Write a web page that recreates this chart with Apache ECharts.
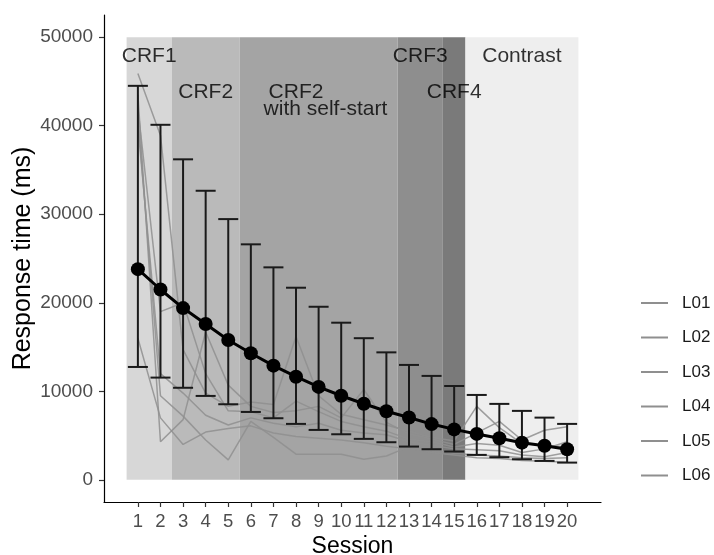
<!DOCTYPE html>
<html>
<head>
<meta charset="utf-8">
<script src="https://cdn.jsdelivr.net/npm/echarts@6/dist/echarts.min.js"></script>
<style>
  html, body { margin: 0; padding: 0; background: #fff; }
  #main { width: 714px; height: 555px; }
</style>
</head>
<body>
<div id="main"></div>
<script>
// sessions and group means with error bar limits (ms)
const sessions = [1, 2, 3, 4, 5, 6, 7, 8, 9, 10, 11, 12, 13, 14, 15, 16, 17, 18, 19, 20];
const meanRT  = [23800, 21500, 19400, 17600, 15800, 14300, 12900, 11650, 10500, 9500, 8600, 7750, 7050, 6300, 5700, 5190, 4700, 4200, 3850, 3450];
const upperRT = [44500, 40100, 36200, 32650, 29450, 26600, 24000, 21700, 19550, 17750, 16000, 14400, 12980, 11740, 10600, 9590, 8580, 7790, 7030, 6320];
const lowerRT = [12750, 11550, 10400, 9480, 8540, 7670, 6960, 6320, 5640, 5150, 4630, 4250, 3760, 3460, 3200, 2820, 2560, 2330, 2140, 1950];

// individual subjects
const subjectNames = ['L01', 'L02', 'L03', 'L04', 'L05', 'L06'];
const L01 = [45900, 38900, 14700, 9800, 8300, 8800, 8500, 16200, 9500, 7400, 6800, 6200, 5500, 4800, 4400, 8300, 5900, 4100, 3900, 3700];
const L02 = [43500, 4300, 6800, 16700, 10700, 8300, 7600, 7800, 8300, 7000, 10200, 6500, 5200, 4600, 4000, 5300, 6600, 4500, 5600, 6000];
const L03 = [42000, 19000, 20000, 12000, 7800, 7700, 7000, 8900, 7700, 6600, 6000, 5500, 4600, 4300, 3700, 4100, 3900, 3100, 3500, 4300];
const L04 = [40000, 12000, 9800, 7300, 6200, 7000, 6400, 6000, 6400, 5600, 5300, 5100, 4300, 3900, 3500, 3400, 3300, 2800, 2600, 3100];
const L05 = [16000, 7000, 4000, 5400, 5800, 6100, 5300, 4900, 4700, 4500, 4200, 3800, 3500, 3300, 3000, 2800, 2700, 2500, 2400, 2500];
const L06 = [41000, 9500, 7200, 4500, 2260, 6600, 4800, 2900, 2900, 2900, 2330, 2700, 3760, 3100, 2800, 2500, 2400, 2200, 2100, 2000];
const subjects = [L01, L02, L03, L04, L05, L06];

// training phases (session ranges)
const phaseStart = [0.5, 2.5, 5.5, 12.5, 14.5, 15.5];
const phaseEnd   = [2.5, 5.5, 12.5, 14.5, 15.5, 20.5];
const phaseTop = 50000;
const phaseColors = ['#d7d7d7', '#bababa', '#a4a4a4', '#8e8e8e', '#7a7a7a', '#eeeeee'];

// phase captions, in data units
const phaseText = ['CRF1', 'CRF2', 'CRF2', 'with self-start', 'CRF3', 'CRF4', 'Contrast'];
const phaseTextX = [1.5, 4, 8, 9.3, 13.5, 15, 18];
const phaseTextY = [47900, 43800, 43800, 41900, 47900, 43800, 47800];

const yTicks = [0, 10000, 20000, 30000, 40000, 50000];

const FONT = 'Liberation Sans, Arial, sans-serif';
const chart = echarts.init(document.getElementById('main'));

const areas = phaseStart.map((s, i) => [
  { xAxis: s, yAxis: 0, itemStyle: { color: phaseColors[i] } },
  { xAxis: phaseEnd[i], yAxis: phaseTop }
]);

const subjectSeries = subjectNames.map((name, i) => ({
  name: name,
  type: 'line',
  z: 2,
  data: sessions.map((s, j) => [s, subjects[i][j]]),
  symbol: 'none',
  color: '#8f8f8f',
  lineStyle: { width: 1.5, opacity: 0.85 }
}));

const option = {
  animation: false,
  textStyle: { fontFamily: FONT },
  grid: { left: 104, right: 113, top: 15, bottom: 53, outerBoundsMode: 'none' },
  legend: {
    data: subjectNames,
    orient: 'vertical',
    left: 636,
    top: 288,
    icon: 'rect',
    itemWidth: 27,
    itemHeight: 2,
    itemGap: 14.5,
    textStyle: { fontSize: 17, color: '#1a1a1a', lineHeight: 20, padding: [0, 0, 0, 9] }
  },
  xAxis: {
    type: 'value',
    min: -0.5,
    max: 21.5,
    name: 'Session',
    nameLocation: 'middle',
    nameGap: 33,
    nameMoveOverlap: false,
    nameTextStyle: { fontSize: 23, color: '#000' },
    axisLine: { onZero: false, lineStyle: { color: '#000', width: 1.2 } },
    axisTick: { customValues: sessions, length: 5, lineStyle: { color: '#333', width: 1.2 } },
    axisLabel: { customValues: sessions, fontSize: 18.5, color: '#4d4d4d', margin: 10 },
    splitLine: { show: false }
  },
  yAxis: {
    type: 'value',
    min: -2500,
    max: 52500,
    name: 'Response time (ms)',
    nameLocation: 'middle',
    nameGap: 68,
    nameMoveOverlap: false,
    nameTextStyle: { fontSize: 25, color: '#000' },
    axisLine: { show: true, onZero: false, lineStyle: { color: '#000', width: 1.2 } },
    axisTick: { show: true, customValues: yTicks, length: 5, lineStyle: { color: '#333', width: 1.2 } },
    axisLabel: { customValues: yTicks, fontSize: 19, color: '#4d4d4d', margin: 11, formatter: v => String(v) },
    splitLine: { show: false }
  },
  series: [
    {
      type: 'line',
      z: 1,
      data: [],
      markArea: { silent: true, data: areas }
    },
    ...subjectSeries,
    {
      type: 'custom',
      z: 3,
      data: sessions.map((s, i) => [s, lowerRT[i], upperRT[i]]),
      renderItem: function (params, api) {
        const top = api.coord([api.value(0), api.value(2)]);
        const bot = api.coord([api.value(0), api.value(1)]);
        const hw = 10;
        const st = { stroke: '#1a1a1a', lineWidth: 2 };
        return {
          type: 'group',
          children: [
            { type: 'line', shape: { x1: top[0], y1: top[1], x2: bot[0], y2: bot[1] }, style: st },
            { type: 'line', shape: { x1: top[0] - hw, y1: top[1], x2: top[0] + hw, y2: top[1] }, style: st },
            { type: 'line', shape: { x1: bot[0] - hw, y1: bot[1], x2: bot[0] + hw, y2: bot[1] }, style: st }
          ]
        };
      }
    },
    {
      type: 'line',
      z: 4,
      data: sessions.map((s, i) => [s, meanRT[i]]),
      symbol: 'circle',
      symbolSize: 14,
      color: '#000',
      lineStyle: { width: 3, color: '#000' },
      itemStyle: { color: '#000' }
    },
    {
      type: 'scatter',
      z: 5,
      symbolSize: 0,
      silent: true,
      data: phaseText.map((t, i) => [phaseTextX[i], phaseTextY[i], t]),
      label: {
        show: true,
        position: 'inside',
        formatter: p => p.value[2],
        fontSize: 21,
        color: '#000',
        fontFamily: FONT
      }
    }
  ]
};

chart.setOption(option);
</script>
</body>
</html>
